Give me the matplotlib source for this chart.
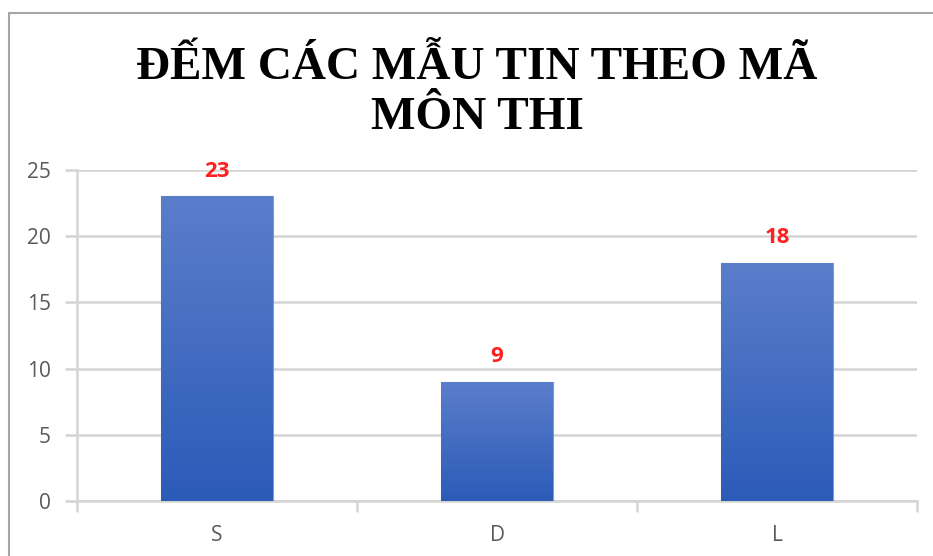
import numpy as np
import matplotlib
matplotlib.use("Agg")
import matplotlib.pyplot as plt
from matplotlib.patches import Rectangle
from matplotlib.colors import LinearSegmentedColormap

categories = ["S", "D", "L"]
values = [23, 9, 18]
yticks = [0, 5, 10, 15, 20, 25]
title_line1 = "ĐẾM CÁC MẪU TIN THEO MÃ"
title_line2 = "MÔN THI"

W, H = 933, 556
fig = plt.figure(figsize=(W / 100, H / 100), dpi=100)
fig.patch.set_facecolor("white")

# outer chart border (cropped at right/bottom)
fig.patches.append(Rectangle((9 / W, -0.2), 1.2, 1.2 - 13 / H, transform=fig.transFigure,
                             fill=False, edgecolor="#A6A6A6", linewidth=1.5, zorder=0))

ax = fig.add_axes([77 / W, 1 - 501 / H, (917 - 77) / W, (501 - 170) / H])

cmap = LinearSegmentedColormap.from_list("g", ["#2C5BB8", "#5B7ECB"])
grad = np.linspace(0, 1, 256).reshape(-1, 1)
x = np.arange(len(categories))
bars = ax.bar(x, values, width=0.4, color="#3F68C0", edgecolor="#7C9AD6", linewidth=0.8, zorder=3)
for b in bars:
    x0, y0 = b.get_x(), b.get_y()
    w, h = b.get_width(), b.get_height()
    im = ax.imshow(grad, cmap=cmap, origin="lower", aspect="auto",
                   extent=[x0, x0 + w, y0, y0 + h], zorder=3.5)
    im.set_clip_path(b)
ax.set_xlim(-0.5, len(categories) - 0.5)
ax.set_ylim(0, 25)

for xi, v in zip(x, values):
    ax.text(xi, v + 1.9, str(v), ha="center", va="center", color="#FF1F1F",
            fontsize=16, fontweight="bold", family="Open Sans", zorder=5)

ax.set_yticks(yticks)
ax.set_yticklabels([str(t) for t in yticks])
ax.grid(axis="y", color="#D4D4D4", linewidth=1.8, zorder=0)
ax.set_axisbelow(True)

ax.set_xticks(x)
ax.set_xticklabels(categories)
ax.set_xticks([-0.5, 0.5, 1.5, 2.5], minor=True)
ax.tick_params(axis="x", which="major", length=0, pad=17, labelsize=15, labelcolor="#595959")
ax.tick_params(axis="x", which="minor", length=8, color="#D4D4D4", width=1.8)
ax.tick_params(axis="y", length=9, color="#D4D4D4", width=1.8, pad=10, labelsize=15, labelcolor="#595959")
for lab in ax.get_xticklabels() + ax.get_yticklabels():
    lab.set_family("Open Sans")

for s in ["top", "right"]:
    ax.spines[s].set_visible(False)
for s in ["left", "bottom"]:
    ax.spines[s].set_color("#D4D4D4")
    ax.spines[s].set_linewidth(1.8)

fig.text(477 / W, 1 - 79 / H, title_line1, ha="center", va="baseline",
         family="Liberation Serif", fontweight="bold", fontsize=34, color="black")
fig.text(477 / W, 1 - 129 / H, title_line2, ha="center", va="baseline",
         family="Liberation Serif", fontweight="bold", fontsize=34, color="black")

fig.savefig("out.png", dpi=100, facecolor="white")
